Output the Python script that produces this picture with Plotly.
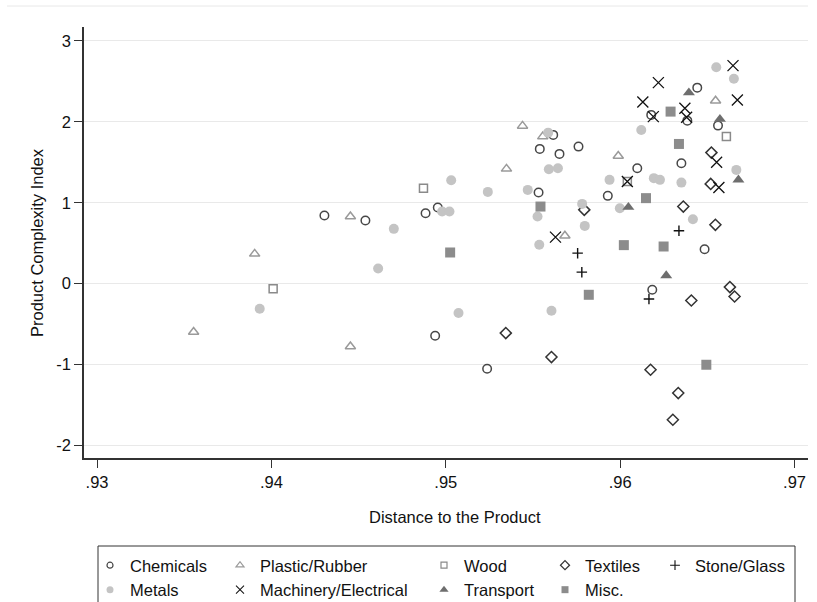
import plotly.graph_objects as go

# ---------------- data ----------------
categories = ["Chemicals", "Plastic/Rubber", "Wood", "Textiles", "Stone/Glass",
              "Metals", "Machinery/Electrical", "Transport", "Misc."]

chemicals_x = [.94304, .94539, .94884, .94954, .94939, .95237, .95532, .95539, .95616, .95652,
               .95761, .95929, .96098, .96184, .96178, .96385, .96442, .96561, .96351, .96484]
chemicals_y = [0.842, 0.780, 0.871, 0.941, -0.645, -1.052, 1.126, 1.666, 1.839, 1.604,
               1.694, 1.085, 1.427, -0.076, 2.086, 2.015, 2.423, 1.954, 1.489, 0.426]

plastic_x = [.93554, .93904, .94453, .94453, .95348, .95440, .95556, .95683, .95989, .96547]
plastic_y = [-0.599, 0.368, 0.829, -0.777, 1.419, 1.950, 1.818, 0.591, 1.579, 2.262]

wood_x = [.94010, .94872, .96041, .96609]
wood_y = [-0.064, 1.180, 1.262, 1.818]

textiles_x = [.95344, .95606, .95794, .96174, .96302, .96333, .96408, .96362, .96519, .96523,
              .96546, .96629, .96656]
textiles_y = [-0.612, -0.908, 0.912, -1.065, -1.683, -1.353, -0.209, 0.953, 1.233, 1.620,
              0.727, -0.043, -0.159]

stone_x = [.95756, .95780, .96165, .96337]
stone_y = [0.377, 0.142, -0.191, 0.653]

metals_x = [.93933, .94612, .94702, .94979, .95021, .95031, .95073, .95241, .95470, .95526,
            .95536, .95587, .95591, .95643, .95606, .95782, .95797, .95939, .95998, .96121,
            .96193, .96228, .96351, .96417, .96551, .96652, .96666]
metals_y = [-0.311, 0.187, 0.677, 0.891, 0.891, 1.279, -0.364, 1.134, 1.159, 0.829,
            0.480, 1.867, 1.415, 1.427, -0.336, 0.986, 0.714, 1.283, 0.933, 1.900,
            1.304, 1.283, 1.249, 0.797, 2.675, 2.534, 1.406]

machinery_x = [.95629, .96041, .96190, .96130, .96219, .96371, .96381, .96553, .96566, .96647, .96672]
machinery_y = [0.575, 1.262, 2.065, 2.246, 2.485, 2.168, 2.057, 1.501, 1.188, 2.695, 2.271]

transport_x = [.96047, .96264, .96394, .96572, .96678]
transport_y = [0.945, 0.100, 2.361, 2.033, 1.283]

misc_x = [.95025, .95543, .95820, .96021, .96148, .96249, .96289, .96337, .96494]
misc_y = [0.385, 0.953, -0.138, 0.476, 1.057, 0.459, 2.127, 1.727, -1.003]

x_tickvals = [0.93, 0.94, 0.95, 0.96, 0.97]
x_ticktext = [".93", ".94", ".95", ".96", ".97"]
y_tickvals = [-2, -1, 0, 1, 2, 3]
y_ticktext = ["-2", "-1", "0", "1", "2", "3"]

series = {
    "Chemicals": (chemicals_x, chemicals_y),
    "Plastic/Rubber": (plastic_x, plastic_y),
    "Wood": (wood_x, wood_y),
    "Textiles": (textiles_x, textiles_y),
    "Stone/Glass": (stone_x, stone_y),
    "Metals": (metals_x, metals_y),
    "Machinery/Electrical": (machinery_x, machinery_y),
    "Transport": (transport_x, transport_y),
    "Misc.": (misc_x, misc_y),
}

# ---------------- styles ----------------
styles = {
    "Chemicals": dict(symbol="circle-open", color="#474747", size=8.5, lw=1.5, legend="legend", lsize=6),
    "Plastic/Rubber": dict(symbol="triangle-up-open", color="#9a9a9a", size=9, lw=1.5, legend="legend2", lsize=7),
    "Wood": dict(symbol="square-open", color="#8a8a8a", size=8, lw=1.5, legend="legend3", lsize=6),
    "Textiles": dict(symbol="diamond-open", color="#333333", size=8.5, lw=1.5, legend="legend4", lsize=7),
    "Stone/Glass": dict(symbol="cross-thin", color="#111111", size=7.5, lw=1.4, legend="legend5", lsize=7),
    "Metals": dict(symbol="circle", color="#c4c4c4", size=10, lw=0, legend="legend", lsize=7),
    "Machinery/Electrical": dict(symbol="x-thin", color="#111111", size=11, lw=1.3, legend="legend2", lsize=8),
    "Transport": dict(symbol="triangle-up", color="#6e6e6e", size=10.5, lw=0, legend="legend3", lsize=8),
    "Misc.": dict(symbol="square", color="#8c8c8c", size=10, lw=0, legend="legend4", lsize=7),
}

FONT = "Liberation Sans, Arial, sans-serif"
FS = 16.5
W, H = 817, 602
L, R, T, B = 84, 9, 27, 144
PW, PH = W - L - R, H - T - B


def px_x(p):
    return (p - L) / PW


def px_y(p):
    return (H - B - p) / PH


fig = go.Figure()

for name in categories:
    xs, ys = series[name]
    st = styles[name]
    fig.add_trace(go.Scatter(
        x=xs, y=ys, mode="markers", name=name, showlegend=False,
        marker=dict(symbol=st["symbol"], color=st["color"], size=st["size"],
                    line=dict(width=st["lw"], color=st["color"])),
        hoverinfo="x+y+name",
    ))

# legend entries (smaller symbols, as in the reference legend)
for name in categories:
    st = styles[name]
    fig.add_trace(go.Scatter(
        x=[None], y=[None], mode="markers", name=name, legend=st["legend"],
        marker=dict(symbol=st["symbol"], color=st["color"], size=st["lsize"],
                    line=dict(width=(st["lw"] * 0.8) if st["lw"] else 0, color=st["color"])),
    ))

leg_common = dict(orientation="v", xanchor="left", yanchor="top", bgcolor="rgba(0,0,0,0)",
                  borderwidth=0, itemwidth=30, tracegroupgap=0,
                  font=dict(family=FONT, size=FS, color="#111111"), itemsizing="trace")
leg_top = px_y(548)
col_left = [90, 220, 424, 545, 655]

fig.update_layout(
    width=W, height=H,
    margin=dict(l=L, r=R, t=T, b=B, autoexpand=False),
    paper_bgcolor="white", plot_bgcolor="white",
    font=dict(family=FONT, size=FS, color="#111111"),
    showlegend=True,
    legend=dict(x=px_x(col_left[0]), y=leg_top, **leg_common),
    legend2=dict(x=px_x(col_left[1]), y=leg_top, **leg_common),
    legend3=dict(x=px_x(col_left[2]), y=leg_top, **leg_common),
    legend4=dict(x=px_x(col_left[3]), y=leg_top, **leg_common),
    legend5=dict(x=px_x(col_left[4]), y=leg_top, **leg_common),
    xaxis=dict(range=[0.929254, 0.97077], tickvals=x_tickvals, ticktext=x_ticktext,
               showgrid=False, zeroline=False, showline=True, linecolor="#333333", linewidth=1.5,
               ticks="outside", ticklen=8, tickwidth=1.3, tickcolor="#333333",
               tickfont=dict(family=FONT, size=FS, color="#111111")),
    yaxis=dict(range=[-2.156, 3.173], tickvals=y_tickvals, ticktext=y_ticktext,
               showgrid=True, gridcolor="#e9e9e9", gridwidth=1, zeroline=False,
               showline=True, linecolor="#333333", linewidth=1.5,
               ticks="outside", ticklen=8, tickwidth=1.3, tickcolor="#333333",
               tickfont=dict(family=FONT, size=FS, color="#111111")),
    annotations=[
        dict(text="Distance to the Product", xref="paper", yref="paper",
             x=px_x(455), y=px_y(517), xanchor="center", yanchor="middle", showarrow=False,
             font=dict(family=FONT, size=FS, color="#111111")),
        dict(text="Product Complexity Index", xref="paper", yref="paper",
             x=px_x(37), y=px_y(243), xanchor="center", yanchor="middle", showarrow=False,
             textangle=-90, font=dict(family=FONT, size=FS, color="#111111")),
    ],
    shapes=[
        dict(type="rect", xref="paper", yref="paper",
             x0=px_x(98), x1=px_x(795), y0=px_y(546), y1=px_y(606),
             line=dict(color="#333333", width=1), fillcolor="rgba(0,0,0,0)"),
        dict(type="line", xref="paper", yref="paper",
             x0=px_x(7), x1=px_x(808), y0=px_y(6), y1=px_y(6),
             line=dict(color="#e8e8e8", width=1)),
    ],
)

fig.write_html("out.html")
